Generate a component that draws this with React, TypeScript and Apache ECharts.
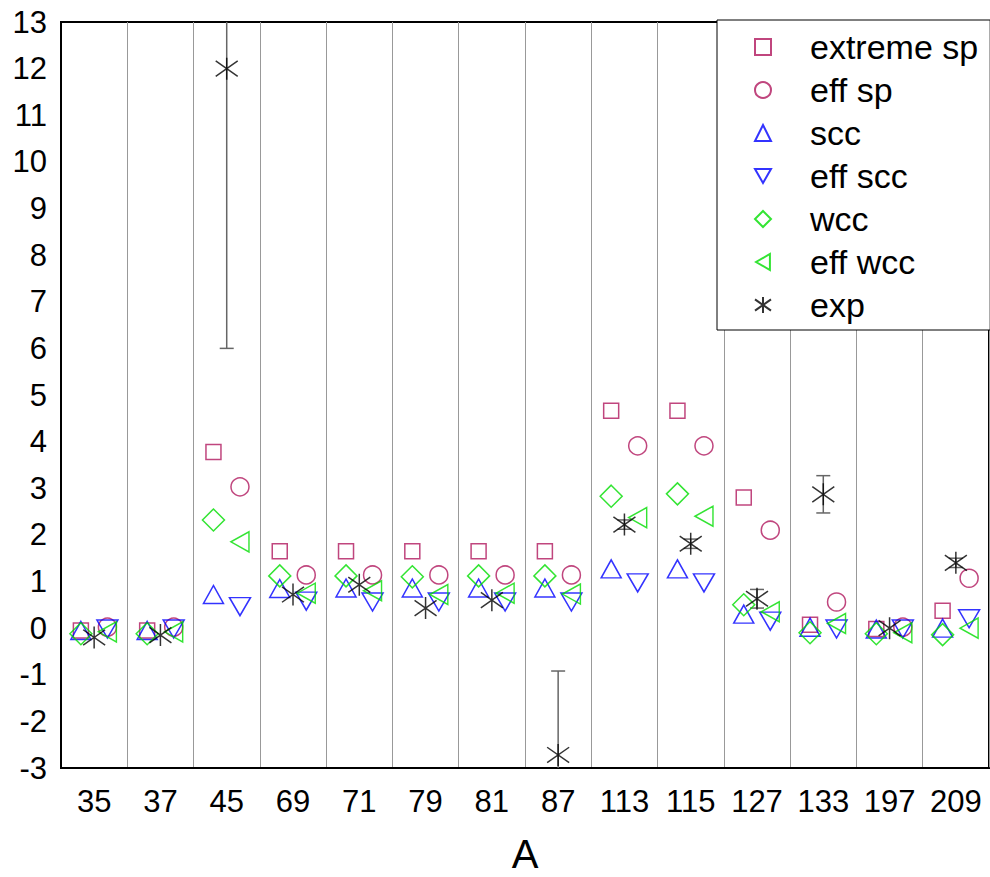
import React, { useEffect, useRef } from "react";
import * as echarts from "echarts";

const categories = ["35", "37", "45", "69", "71", "79", "81", "87", "113", "115", "127", "133", "197", "209"];
const extremeSp = [-0.05, -0.05, 3.78, 1.65, 1.65, 1.65, 1.65, 1.65, 4.66, 4.66, 2.8, 0.07, -0.02, 0.37];
const effSp = [0.02, 0.02, 3.03, 1.14, 1.14, 1.14, 1.14, 1.14, 3.91, 3.91, 2.1, 0.56, 0.02, 1.07];
const scc = [-0.05, -0.05, 0.72, 0.85, 0.86, 0.86, 0.86, 0.86, 1.27, 1.27, 0.3, 0.02, -0.02, 0.0];
const effScc = [-0.02, -0.02, 0.46, 0.58, 0.56, 0.56, 0.56, 0.56, 0.97, 0.97, 0.15, -0.02, -0.02, 0.2];
const wcc = [-0.12, -0.12, 2.32, 1.12, 1.12, 1.1, 1.12, 1.12, 2.83, 2.88, 0.5, -0.1, -0.12, -0.14];
const effWcc = [-0.08, -0.08, 1.85, 0.75, 0.8, 0.72, 0.75, 0.73, 2.37, 2.4, 0.35, 0.1, -0.1, 0.0];
const exp = [-0.2, -0.15, 12, 0.72, 0.93, 0.43, 0.6, -2.72, 2.22, 1.81, 0.63, 2.87, 0.0, 1.4];
const expErr = [0, 0, 6, 0, 0, 0, 0, 1.8, 0.1, 0.1, 0.2, 0.4, 0, 0.1];

const PURPLE = "#B0185E";
const BLUE = "#0000FF";
const GREEN = "#00DD00";
const FONT = "Liberation Sans, Arial, sans-serif";

const DOWN_TRI = "path://M0,0L20,0L10,17.3Z";
const LEFT_TRI = "path://M17.3,0L17.3,20L0,10Z";
const STAR = "path://M10,0L10,20M0,3L20,17M0,17L20,3";

const LEFT_OFF = -0.2;
const RIGHT_OFF = 0.2;

function pts(vals: number[], off: number) {
  return vals.map((v, i) => [i + off, v]);
}

function scatter(name: string, vals: number[], off: number, symbol: string, size: any, color: string, bw = 1.5) {
  return {
    name,
    type: "scatter",
    xAxisIndex: 1,
    yAxisIndex: 0,
    data: pts(vals, off),
    symbol,
    symbolSize: size,
    itemStyle: { color: "transparent", borderColor: color, borderWidth: bw },
    z: 3,
  };
}

export default function App() {
  const ref = useRef<HTMLDivElement>(null);
  useEffect(() => {
    if (!ref.current) return;
    const chart = echarts.init(ref.current, undefined, { renderer: "svg" });
    const option: any = {
      animation: false,
      backgroundColor: "#fff",
      grid: {
        left: 61,
        right: 1,
        top: 22,
        bottom: 109,
        containLabel: false,
        outerBoundsMode: "none",
        show: true,
        borderColor: "#000",
        borderWidth: 2,
        backgroundColor: "transparent",
      },
      legend: {
        data: ["extreme sp", "eff sp", "scc", "eff scc", "wcc", "eff wcc", "exp"],
        orient: "vertical",
        left: 717,
        top: 20,
        backgroundColor: "#fff",
        borderColor: "#000",
        borderWidth: 1,
        borderRadius: 0,
        padding: [10, 12, 8, 37],
        itemWidth: 16,
        itemHeight: 16,
        itemGap: 9,
        z: 10,
        textStyle: { fontSize: 34, color: "#000", fontFamily: FONT, padding: [0, 0, 0, 34] },
      },
      xAxis: [
        {
          type: "category",
          data: categories,
          boundaryGap: true,
          axisLine: { show: true, onZero: false, lineStyle: { color: "#000", width: 2 } },
          axisTick: { show: false },
          axisLabel: { interval: 0, fontSize: 31, color: "#000", margin: 18, fontFamily: FONT },
          splitLine: { show: true, interval: 0, lineStyle: { color: "#999", width: 1 } },
          name: "A",
          nameLocation: "middle",
          nameGap: 66,
          nameTextStyle: { fontSize: 40, color: "#000", fontFamily: FONT },
        },
        { type: "value", min: -0.5, max: 13.5, show: false, axisLine: { onZero: false } },
      ],
      yAxis: {
        type: "value",
        min: -3,
        max: 13,
        interval: 1,
        axisLine: { show: true, onZero: false, lineStyle: { color: "#000", width: 2 } },
        axisTick: { show: false },
        splitLine: { show: false },
        axisLabel: { fontSize: 31, color: "#000", margin: 14, fontFamily: FONT },
      },
      series: [
        {
          name: "exp err",
          type: "custom",
          xAxisIndex: 1,
          yAxisIndex: 0,
          data: exp.map((v, i) => [i, v, expErr[i]]),
          encode: { x: 0, y: 1 },
          z: 2,
          renderItem: (params: any, api: any) => {
            const x = api.value(0);
            const y = api.value(1);
            const e = api.value(2);
            if (!e) return { type: "group", children: [] };
            const cs = params.coordSys;
            const top = cs.y;
            const bottom = cs.y + cs.height;
            const ph = api.coord([x, y + e]);
            const pl = api.coord([x, y - e]);
            const px = ph[0];
            let yh = ph[1];
            let yl = pl[1];
            const capH = yh >= top;
            const capL = yl <= bottom;
            yh = Math.max(top, yh);
            yl = Math.min(bottom, yl);
            const style = { stroke: "#666", lineWidth: 1.5 };
            const children: any[] = [{ type: "line", shape: { x1: px, y1: yh, x2: px, y2: yl }, style }];
            if (capH) children.push({ type: "line", shape: { x1: px - 7, y1: yh, x2: px + 7, y2: yh }, style });
            if (capL) children.push({ type: "line", shape: { x1: px - 7, y1: yl, x2: px + 7, y2: yl }, style });
            return { type: "group", children };
          },
        },
        scatter("extreme sp", extremeSp, LEFT_OFF, "rect", 15, PURPLE),
        scatter("eff sp", effSp, RIGHT_OFF, "circle", 18, PURPLE),
        scatter("scc", scc, LEFT_OFF, "triangle", [20, 18], BLUE),
        scatter("eff scc", effScc, RIGHT_OFF, DOWN_TRI, [21, 18], BLUE),
        scatter("wcc", wcc, LEFT_OFF, "diamond", [22, 22], GREEN),
        scatter("eff wcc", effWcc, RIGHT_OFF, LEFT_TRI, [18, 20], GREEN),
        { ...scatter("exp", exp, 0, STAR, [22, 22], "#000", 1.5), z: 4 },
      ],
    };
    chart.setOption(option);
    return () => chart.dispose();
  }, []);
  return <div ref={ref} style={{ position: "absolute", left: 0, top: 0, width: 990, height: 877 }} />;
}
